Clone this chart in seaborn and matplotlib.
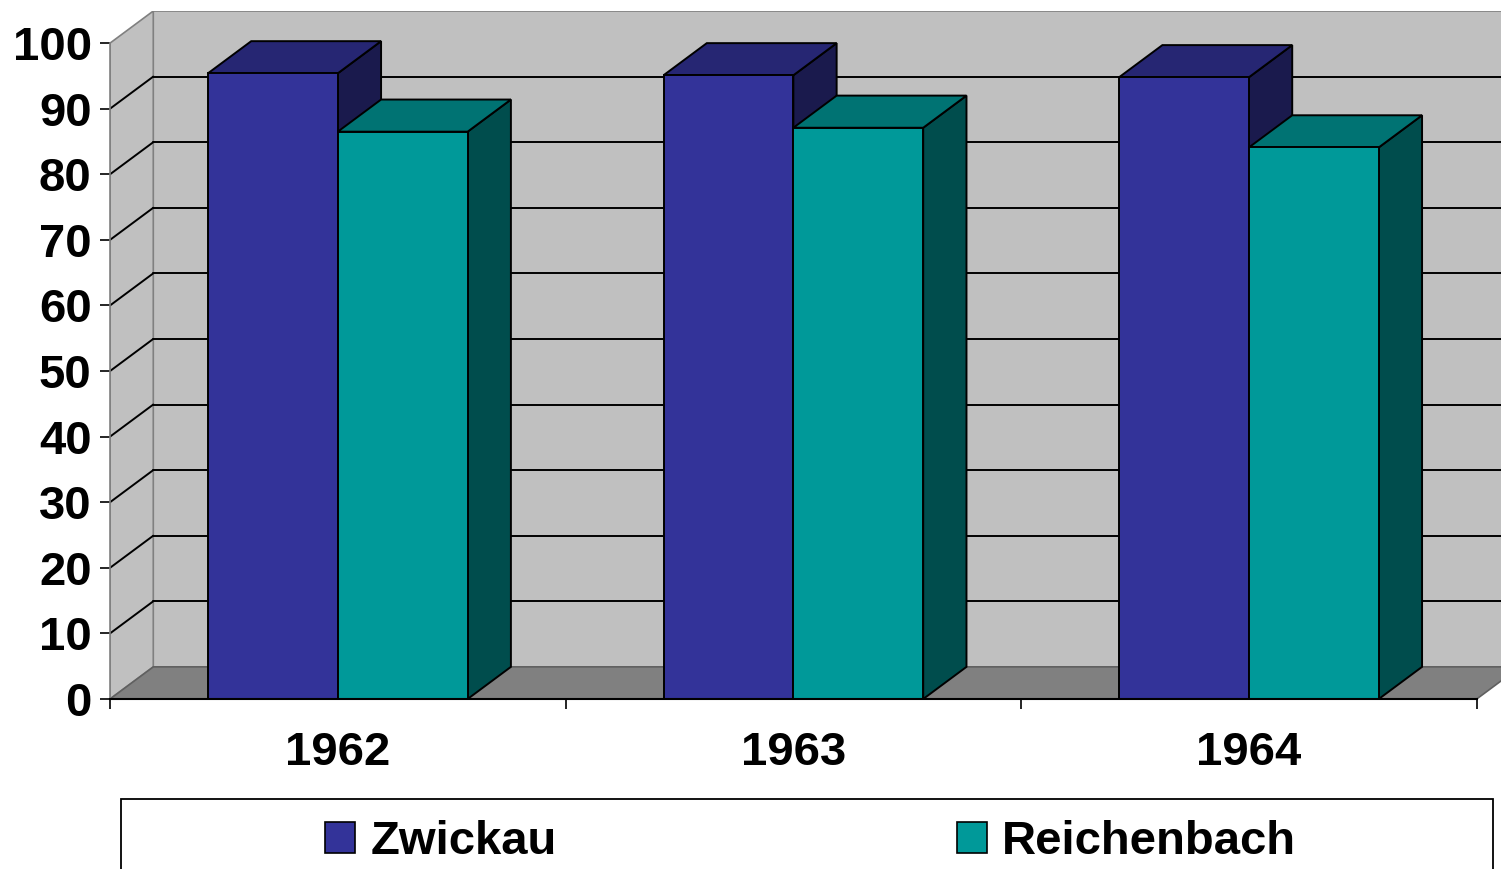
import numpy as np
import pandas as pd
import matplotlib
matplotlib.use("Agg")
import matplotlib.pyplot as plt
import seaborn as sns
from matplotlib.patches import Polygon, Rectangle

years = ["1962", "1963", "1964"]
zwickau = [95.4, 95.1, 94.8]
reichenbach = [86.5, 87.1, 84.1]
series_names = ["Zwickau", "Reichenbach"]
y_ticks = list(range(0, 101, 10))
palette = {"Zwickau": "#333399", "Reichenbach": "#009999"}

sns.set_style("white")
plt.rcParams["font.family"] = ["Liberation Sans", "DejaVu Sans"]
plt.rcParams["font.weight"] = "bold"
plt.rcParams["text.color"] = "black"
plt.rcParams["xtick.color"] = "black"
plt.rcParams["ytick.color"] = "black"
plt.rcParams["axes.labelcolor"] = "black"

W, H = 1501, 869
fig = plt.figure(figsize=(W / 100, H / 100), dpi=100)
fig.patch.set_facecolor("white")
ax = fig.add_axes([110 / W, 170 / H, 1410 / W, 688 / H])

df = pd.DataFrame({
    "Jahr": years * 2,
    "Stadt": [series_names[0]] * 3 + [series_names[1]] * 3,
    "Wert": zwickau + reichenbach,
})

sns.barplot(data=df, x="Jahr", y="Wert", hue="Stadt", hue_order=series_names,
            palette=palette, width=0.57, gap=0, saturation=1,
            edgecolor="black", linewidth=1.4, ax=ax, legend=True)

handles, labels = ax.get_legend_handles_labels()
if ax.get_legend() is not None:
    ax.get_legend().remove()

DX, DY = 0.095, 4.9
XMIN, XMAX = -0.5, 2.5
ax.set_xlim(XMIN, XMAX + DX)
ax.set_ylim(0, 100 + DY)
ax.set_facecolor("white")

# walls
wall_col = "#C0C0C0"
edge_col = "#808080"
ax.add_patch(Rectangle((XMIN + DX, DY), XMAX - XMIN, 100, fc=wall_col,
                       ec=edge_col, lw=1.2, zorder=0.5))
ax.add_patch(Polygon([(XMIN, 0), (XMIN + DX, DY), (XMIN + DX, 100 + DY), (XMIN, 100)],
                     closed=True, fc=wall_col, ec=edge_col, lw=1.2, zorder=0.5))
ax.add_patch(Polygon([(XMIN, 0), (XMAX, 0), (XMAX + DX, DY), (XMIN + DX, DY)],
                     closed=True, fc="#808080", ec="#606060", lw=1.2, zorder=0.6))

for v in y_ticks[1:-1]:
    ax.plot([XMIN + DX, XMAX + DX], [v + DY, v + DY], color="black", lw=1.4, zorder=1)
    ax.plot([XMIN, XMIN + DX], [v, v + DY], color="black", lw=1.4, zorder=1)

# 3D faces for bars
bars = sorted([p for p in ax.patches if isinstance(p, Rectangle) and p.get_height() > 0
               and p.get_width() < 1], key=lambda p: p.get_x())
for i, p in enumerate(bars):
    x0, w, h = p.get_x(), p.get_width(), p.get_height()
    fc = np.array(p.get_facecolor()[:3])
    z = 2 + i * 0.1
    top = Polygon([(x0, h), (x0 + w, h), (x0 + w + DX, h + DY), (x0 + DX, h + DY)],
                  closed=True, fc=fc * 0.75, ec="black", lw=1.4, zorder=z)
    side = Polygon([(x0 + w, 0), (x0 + w, h), (x0 + w + DX, h + DY), (x0 + w + DX, DY)],
                   closed=True, fc=fc * 0.5, ec="black", lw=1.4, zorder=z)
    ax.add_patch(side)
    ax.add_patch(top)
    p.set_zorder(z + 0.05)

# axes styling
for s in ["top", "right"]:
    ax.spines[s].set_visible(False)
ax.spines["left"].set_bounds(0, 100)
ax.spines["left"].set_color(edge_col)
ax.spines["left"].set_linewidth(1.2)
ax.spines["bottom"].set_bounds(XMIN, XMAX)
ax.spines["bottom"].set_color("black")
ax.spines["bottom"].set_linewidth(1.5)
ax.spines["left"].set_zorder(3)
ax.spines["bottom"].set_zorder(3)

ax.set_yticks(y_ticks)
ax.tick_params(axis="y", left=True, length=7.2, width=1.2, color="black", pad=6,
               labelsize=34, labelcolor="black")
ax.set_xticks([0, 1, 2])
ax.set_xticklabels(years)
ax.set_xticks([-0.5, 0.5, 1.5, 2.5], minor=True)
ax.tick_params(axis="x", which="major", bottom=False, length=0, pad=23, labelsize=34,
               labelcolor="black")
ax.tick_params(axis="x", which="minor", bottom=True, length=7.2, width=1.2, color="black")
for lab in ax.get_xticklabels() + ax.get_yticklabels():
    lab.set_fontweight("bold")
    lab.set_color("black")
ax.set_xlabel("")
ax.set_ylabel("")

# legend
for hd in handles:
    hd.set_edgecolor("black")
    hd.set_linewidth(1.2)
fig.add_artist(Rectangle((121 / W, -0.05), 1372 / W, 70 / H + 0.05,
                         transform=fig.transFigure, fill=False, ec="black", lw=1.3))
leg_x = [325 / W, 957 / W]
leg_y = (H - 842) / H
for hd, lb, lx in zip(handles, labels, leg_x):
    lg = fig.legend([hd], [lb], loc="center left", bbox_to_anchor=(lx, leg_y),
                    frameon=False, borderpad=0, borderaxespad=0,
                    handlelength=0.64, handleheight=0.66, handletextpad=0.32,
                    prop={"size": 34, "weight": "bold"})
    for t in lg.get_texts():
        t.set_color("black")

fig.savefig("out.png", dpi=100)
